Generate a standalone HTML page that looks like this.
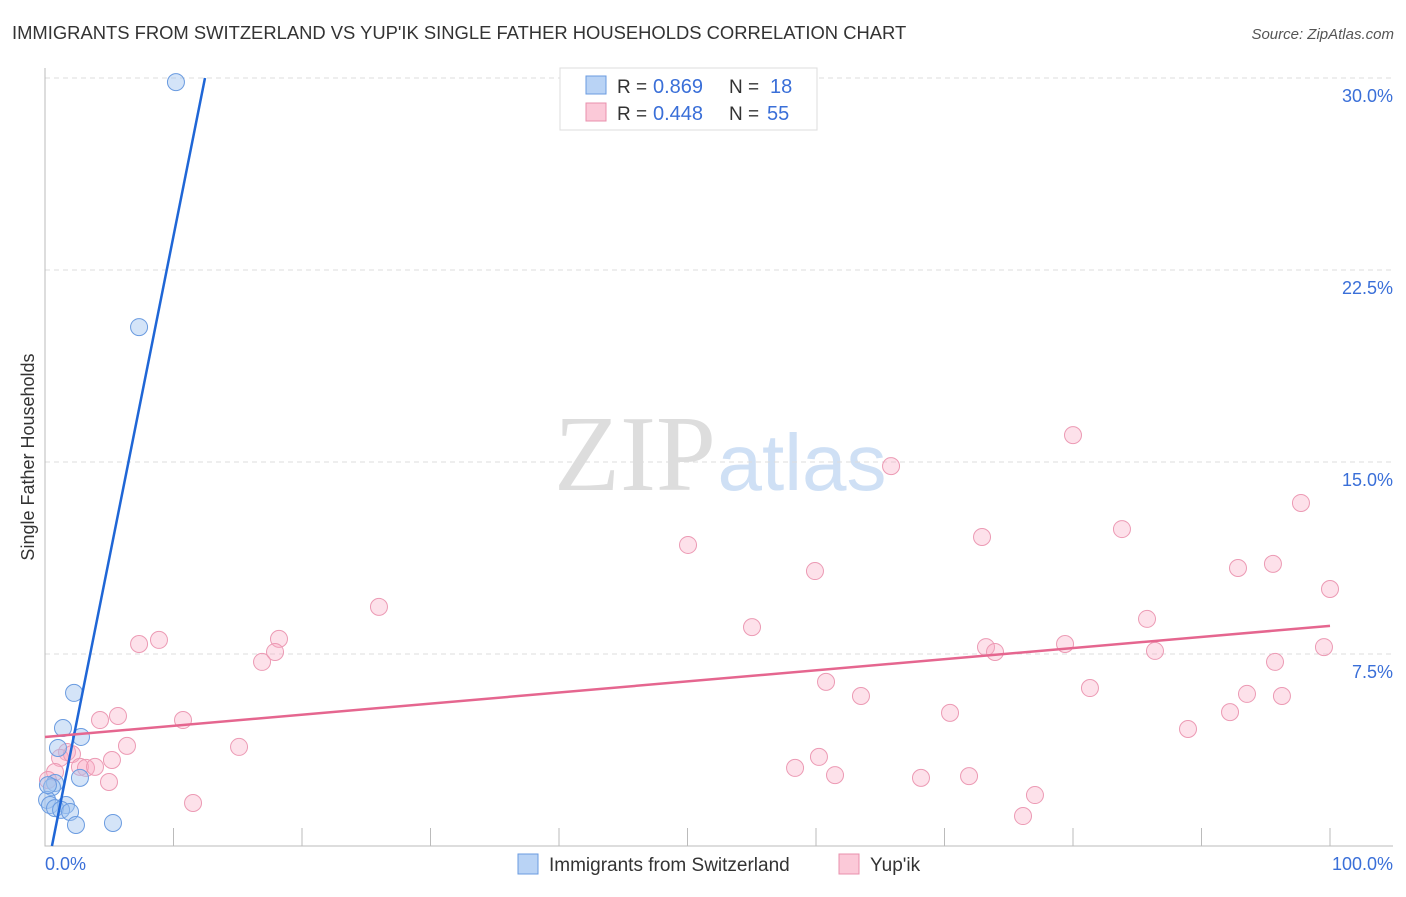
<!DOCTYPE html>
<html><head><meta charset="utf-8"><style>
body{margin:0;background:#fff;font-family:"Liberation Sans",sans-serif}
</style></head><body>
<svg id="c" width="1406" height="892" xmlns="http://www.w3.org/2000/svg">
<text x="12" y="39" font-size="18.4" fill="#333">IMMIGRANTS FROM SWITZERLAND VS YUP'IK SINGLE FATHER HOUSEHOLDS CORRELATION CHART</text>
<text x="1394" y="39" font-size="15" fill="#555" font-style="italic" text-anchor="end">Source: ZipAtlas.com</text>
<text x="635" y="490" font-size="108" fill="#ddd" font-family="Liberation Serif" text-anchor="middle">ZIP</text>
<text x="802" y="490" font-size="80" fill="#cfe0f5" text-anchor="middle">atlas</text>
<text transform="translate(34,457) rotate(-90)" font-size="18" fill="#333" text-anchor="middle">Single Father Households</text>
<g id="grid"></g><g id="pts"></g><g id="lines"></g>
<g>
<rect x="560" y="68" width="257" height="62" fill="#fff" stroke="#ddd"/>
<rect x="586" y="76" width="20" height="18" fill="#b9d3f5" stroke="#6a9be0"/>
<rect x="586" y="103" width="20" height="18" fill="#fbc9d8" stroke="#e890ad"/>
<text x="617" y="93" font-size="19" fill="#333">R =</text>
<text x="653" y="93" font-size="20" fill="#3a6fd8">0.869</text>
<text x="729" y="93" font-size="19" fill="#333">N =</text>
<text x="770" y="93" font-size="20" fill="#3a6fd8">18</text>
<text x="617" y="120" font-size="19" fill="#333">R =</text>
<text x="653" y="120" font-size="20" fill="#3a6fd8">0.448</text>
<text x="729" y="120" font-size="19" fill="#333">N =</text>
<text x="767" y="120" font-size="20" fill="#3a6fd8">55</text>
</g>
<g>
<rect x="518" y="854" width="20" height="20" fill="#b9d3f5" stroke="#6a9be0"/>
<text x="549" y="871" font-size="19" fill="#333">Immigrants from Switzerland</text>
<rect x="839" y="854" width="20" height="20" fill="#fbc9d8" stroke="#e890ad"/>
<text x="870" y="871" font-size="19" fill="#333">Yup'ik</text>
</g>
<text x="45" y="870" font-size="18" fill="#3a6fd8">0.0%</text>
<text x="1393" y="870" font-size="18" fill="#3a6fd8" text-anchor="end">100.0%</text>
</svg>
<script>
const yTicks=[7.5,15,22.5,30];
const yTickLabels=["7.5%","15.0%","22.5%","30.0%"];
const blueX=[10.19,7.32,2.26,1.40,2.80,1.01,2.72,0.78,0.54,0.16,0.39,1.63,0.78,1.25,1.95,2.41,5.29,0.23];
const blueY=[29.84,20.27,5.98,4.61,4.26,3.83,2.66,2.46,2.30,1.80,1.60,1.60,1.48,1.41,1.33,0.82,0.90,2.38];
const pinkX=[7.32,8.87,18.21,17.90,16.89,25.99,4.28,5.68,10.74,6.38,15.10,1.71,1.17,2.10,5.21,2.72,3.19,3.89,0.78,4.98,0.23,11.52,50.04,59.92,55.02,60.78,63.50,65.84,70.43,60.23,58.37,61.48,68.17,71.91,72.92,73.23,73.93,80.0,79.38,81.32,83.81,85.76,86.38,88.95,92.22,92.84,93.54,95.56,95.72,96.26,97.74,99.53,100.0,77.04,76.11];
const pinkY=[7.89,8.05,8.09,7.58,7.19,9.34,4.92,5.08,4.92,3.91,3.87,3.67,3.44,3.59,3.36,3.09,3.05,3.09,2.89,2.50,2.58,1.68,11.76,10.74,8.55,6.41,5.86,14.84,5.20,3.48,3.05,2.77,2.66,2.73,12.07,7.77,7.58,16.05,7.89,6.17,12.38,8.87,7.62,4.57,5.23,10.86,5.94,11.02,7.19,5.86,13.40,7.77,10.04,1.99,1.17];
const blueLine=[[0.54,0],[12.45,30]];
const pinkLine=[[0,4.26],[100,8.6]];
const sx=v=>45+v*12.85, sy=v=>846-v*25.6;
const NS="http://www.w3.org/2000/svg";
function mk(t,a,p){const e=document.createElementNS(NS,t);for(const k in a)e.setAttribute(k,a[k]);p.appendChild(e);return e;}
const g=document.getElementById('grid');
yTicks.forEach((t,i)=>{
 const l=mk('line',{x1:45,x2:1393,y1:sy(t),y2:sy(t),stroke:'#ddd','stroke-dasharray':'5,4'},g);
 
 
 const tx=mk('text',{x:1393,y:sy(t)+24,'font-size':18,fill:'#3a6fd8','text-anchor':'end'},g);
 tx.textContent=yTickLabels[i];
 
 
});
const ax=mk('path',{d:'M45,68V846H1393',stroke:'#bbb',fill:'none'},g);


for(let i=1;i<=10;i++){const t=mk('line',{x1:sx(i*10),x2:sx(i*10),y1:828,y2:846,stroke:'#bbb'},g);
 
 }
const p=document.getElementById('pts');
pinkX.forEach((x,i)=>{const c=mk('circle',{cx:sx(x),cy:sy(pinkY[i]),r:8.5,fill:'rgba(248,170,195,0.35)',stroke:'#ec9ab4','stroke-width':1},p);
 
 });
blueX.forEach((x,i)=>{const c=mk('circle',{cx:sx(x),cy:sy(blueY[i]),r:8.5,fill:'rgba(160,195,240,0.45)',stroke:'#6a9be0','stroke-width':1},p);
 
 });
const L=document.getElementById('lines');
const bl=mk('line',{x1:sx(blueLine[0][0]),y1:sy(blueLine[0][1]),x2:sx(blueLine[1][0]),y2:sy(blueLine[1][1]),stroke:'#1f66d6','stroke-width':2.5},L);


const pl=mk('line',{x1:sx(pinkLine[0][0]),y1:sy(pinkLine[0][1]),x2:sx(pinkLine[1][0]),y2:sy(pinkLine[1][1]),stroke:'#e5668f','stroke-width':2.5},L);


</script>
</body></html>
